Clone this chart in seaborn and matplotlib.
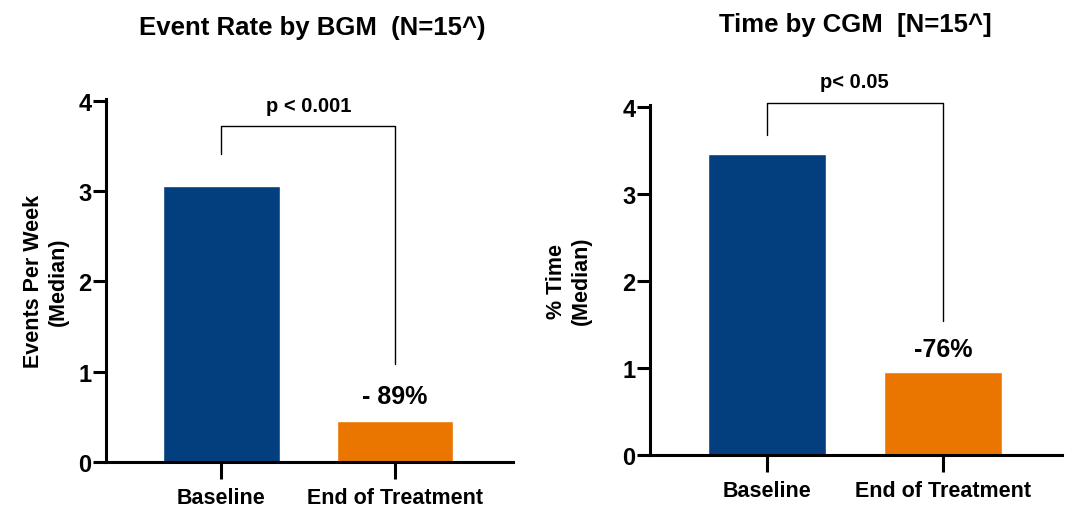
import matplotlib
matplotlib.use("Agg")
import matplotlib.pyplot as plt
import seaborn as sns
import pandas as pd

categories = ["Baseline", "End of Treatment"]
bgm_values = [3.06, 0.45]
cgm_values = [3.46, 0.95]
titles = ["Event Rate by BGM  (N=15^)", "Time by CGM  [N=15^]"]
ylabels = ["Events Per Week\n(Median)", "% Time\n(Median)"]
p_texts = ["p < 0.001", "p< 0.05"]
change_texts = ["- 89%", "-76%"]
yticks = [0, 1, 2, 3, 4]

colors = ["#033F7E", "#EA7600"]

sns.set_style("ticks")
plt.rcParams['font.family'] = ['Liberation Sans', 'DejaVu Sans']
plt.rcParams['font.weight'] = 'bold'
plt.rcParams['text.color'] = 'black'
plt.rcParams['axes.labelcolor'] = 'black'
plt.rcParams['xtick.color'] = 'black'
plt.rcParams['ytick.color'] = 'black'

fig = plt.figure(figsize=(10.9, 5.1), dpi=100)
ax1 = fig.add_axes([0.0972, 0.092, 0.3734, 0.712])
ax2 = fig.add_axes([0.5963, 0.106, 0.378, 0.686])

specs = [
    (ax1, bgm_values, dict(bar_y=3.72, left_leg=3.41, right_leg=1.085, p_y=3.95, ch_y=0.73, ylim=4.02, lpad=7)),
    (ax2, cgm_values, dict(bar_y=4.04, left_leg=3.68, right_leg=1.54, p_y=4.29, ch_y=1.22, ylim=4.02, lpad=22)),
]

for i, (ax, vals, s) in enumerate(specs):
    df = pd.DataFrame({"cat": categories, "val": vals})
    sns.barplot(data=df, x="cat", y="val", hue="cat", palette=colors,
                width=0.67, ax=ax, legend=False, saturation=1)
    ax.set_xlim(-0.665, 1.678)
    ax.set_ylim(0, s["ylim"])
    ax.set_yticks(yticks)
    ax.set_xlabel("")
    ax.set_ylabel(ylabels[i], fontsize=15.5, fontweight='bold', labelpad=s["lpad"])
    for side in ["top", "right"]:
        ax.spines[side].set_visible(False)
    for side in ["left", "bottom"]:
        ax.spines[side].set_linewidth(2.2)
        ax.spines[side].set_color("black")
    ax.tick_params(axis='both', width=2.2, length=9.5, color='black')
    ax.tick_params(axis='y', labelsize=17, pad=1)
    ax.tick_params(axis='x', labelsize=15.5, length=12, pad=6)
    for lab in ax.get_xticklabels() + ax.get_yticklabels():
        lab.set_fontweight('bold')
    # significance bracket
    ax.plot([0, 0, 1, 1], [s["left_leg"], s["bar_y"], s["bar_y"], s["right_leg"]],
            color="black", lw=1.0, clip_on=False)
    ax.text(0.5, s["p_y"], p_texts[i], ha='center', va='center',
            fontsize=14.5, fontweight='bold', clip_on=False)
    ax.text(1, s["ch_y"], change_texts[i], ha='center', va='center',
            fontsize=18, fontweight='bold')

fig.text(312 / 1090, 1 - 28 / 510, titles[0], ha='center', va='center',
         fontsize=18.5, fontweight='bold')
fig.text(855 / 1090, 1 - 25 / 510, titles[1], ha='center', va='center',
         fontsize=18.5, fontweight='bold')

fig.savefig("out.png", dpi=100)
